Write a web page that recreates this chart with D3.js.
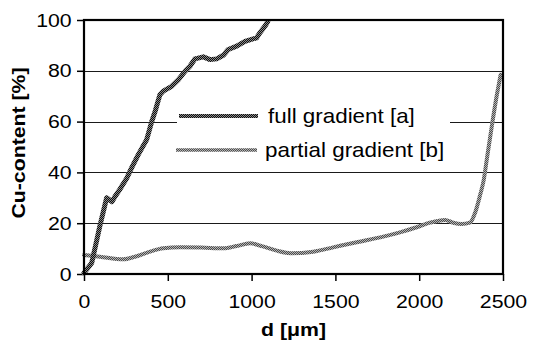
<!DOCTYPE html>
<html>
<head>
<meta charset="utf-8">
<script src="https://cdn.jsdelivr.net/npm/d3@7"></script>
<style>
  html, body { margin: 0; padding: 0; background: #fff; }
  svg { display: block; font-family: Arial, "Liberation Sans", sans-serif; }
</style>
</head>
<body>
<svg id="chart" width="536" height="345"></svg>
<script>
// Cu-content profiles across depth d for the two gradient layers
const fullD = [0, 46, 95, 135, 167, 185, 211, 255, 284, 324, 374, 404, 424, 453, 473, 523, 563, 603, 632, 662, 712, 752, 792, 831, 861, 911, 961, 1030, 1050, 1080, 1096];
const fullV = [0.4, 4.3, 19, 30, 28.5, 30.5, 33, 37.7, 41.8, 47, 52.9, 60, 64, 70.6, 72, 73.9, 76.5, 79.8, 81.8, 84.7, 85.5, 84.4, 84.7, 86.1, 88.4, 89.7, 91.6, 93, 95, 97.6, 99.3];

const partD = [0, 95, 235, 304, 394, 473, 573, 700, 831, 911, 990, 1060, 1150, 1235, 1368, 1487, 1627, 1786, 1885, 1985, 2064, 2154, 2203, 2253, 2303, 2333, 2363, 2385, 2403, 2433, 2462, 2486];
const partV = [7.5, 6.8, 5.8, 6.8, 8.8, 10.1, 10.5, 10.4, 10.1, 11, 12.1, 11, 9.2, 8.2, 8.8, 10.5, 12.5, 14.7, 16.4, 18.4, 20.2, 21.3, 20.2, 19.7, 20.2, 24, 31, 37, 45, 58.1, 70, 78.5];

const seriesNames = ["full gradient [a]", "partial gradient [b]"];
const xTicks = [0, 500, 1000, 1500, 2000, 2500];
const yTicks = [0, 20, 40, 60, 80, 100];
const xTitle = "d [\u03bcm]";
const yTitle = "Cu-content [%]";

const svg = d3.select("#chart");
const plotL = 84, plotR = 503, plotT = 20, plotB = 274;
const sx = 1.12; // horizontal glyph stretch

const x = d3.scaleLinear().domain([0, 2500]).range([plotL, plotR]);
const y = d3.scaleLinear().domain([0, 100]).range([plotB, plotT]);

// textured strokes
const defs = svg.append("defs");
function texture(id, base, dot) {
  const p = defs.append("pattern").attr("id", id)
    .attr("patternUnits", "userSpaceOnUse").attr("width", 2).attr("height", 2);
  p.append("rect").attr("width", 2).attr("height", 2).attr("fill", base);
  p.append("rect").attr("x", 0).attr("y", 0).attr("width", 1).attr("height", 1).attr("fill", dot);
  p.append("rect").attr("x", 1).attr("y", 1).attr("width", 1).attr("height", 1).attr("fill", dot);
}
texture("texA", "#0d0d0d", "#8a8a8a");
texture("texB", "#4c4c4c", "#b4b4b4");

// gridlines
svg.append("g").selectAll("line").data(yTicks.filter(t => t > 0 && t < 100)).join("line")
  .attr("x1", plotL).attr("x2", plotR)
  .attr("y1", d => Math.round(y(d)) + 0.5).attr("y2", d => Math.round(y(d)) + 0.5)
  .attr("stroke", "#1a1a1a").attr("stroke-width", 1);

// axes
const yAxis = svg.append("g").attr("transform", `translate(${plotL},0)`)
  .call(d3.axisLeft(y).tickValues(yTicks).tickSize(7).tickPadding(4).tickSizeOuter(0));
const xAxis = svg.append("g").attr("transform", `translate(0,${plotB})`)
  .call(d3.axisBottom(x).tickValues(xTicks).tickFormat(d3.format("d")).tickSize(7).tickPadding(13.5).tickSizeOuter(0));
[yAxis, xAxis].forEach(a => {
  a.select(".domain").remove();
  a.selectAll(".tick line").attr("stroke", "#000").attr("stroke-width", 1.5);
  a.selectAll(".tick text").attr("fill", "#000").style("font-size", "19px")
    .style("font-family", "Arial, 'Liberation Sans', sans-serif")
    .attr("transform", `scale(${sx},1)`);
});

// lines
const lineA = d3.line().x(i => x(fullD[i])).y(i => y(fullV[i]));
const lineB = d3.line().x(i => x(partD[i])).y(i => y(partV[i])).curve(d3.curveMonotoneX);

svg.append("path").attr("d", lineB(d3.range(partD.length)))
  .attr("fill", "none").attr("stroke", "url(#texB)").attr("stroke-width", 4)
  .attr("stroke-linejoin", "round").attr("stroke-linecap", "round");
svg.append("path").attr("d", lineA(d3.range(fullD.length)))
  .attr("fill", "none").attr("stroke", "url(#texA)").attr("stroke-width", 5)
  .attr("stroke-linejoin", "round").attr("stroke-linecap", "round");

// plot frame
svg.append("rect").attr("x", plotL).attr("y", plotT).attr("width", plotR - plotL).attr("height", plotB - plotT)
  .attr("fill", "none").attr("stroke", "#000").attr("stroke-width", 2.2);

// legend
const legend = svg.append("g");
legend.append("rect").attr("x", 177).attr("y", 98).attr("width", 273).attr("height", 68).attr("fill", "#fff");
const legendRows = [
  { name: seriesNames[0], tex: "url(#texA)", w: 4, y: 116, x1: 179, x2: 258, tx: 268 },
  { name: seriesNames[1], tex: "url(#texB)", w: 3.5, y: 150, x1: 176, x2: 257, tx: 265 }
];
legendRows.forEach(r => {
  legend.append("line").attr("x1", r.x1).attr("x2", r.x2).attr("y1", r.y).attr("y2", r.y)
    .attr("stroke", r.tex).attr("stroke-width", r.w);
  legend.append("g").attr("transform", `translate(${r.tx},${r.y})`)
    .append("text").attr("transform", `scale(${sx},1)`).attr("dy", "0.35em")
    .style("font-size", "20px").attr("fill", "#000").text(r.name);
});

// axis titles
svg.append("g").attr("transform", `translate(${(plotL + plotR) / 2},336)`)
  .append("text").attr("transform", `scale(${sx},1)`).attr("text-anchor", "middle")
  .style("font-size", "19px").style("font-weight", "bold").text(xTitle);
svg.append("g").attr("transform", `translate(25,143) rotate(-90)`)
  .append("text").attr("transform", `scale(${sx},1)`).attr("text-anchor", "middle")
  .style("font-size", "19px").style("font-weight", "bold").text(yTitle);
</script>
</body>
</html>
